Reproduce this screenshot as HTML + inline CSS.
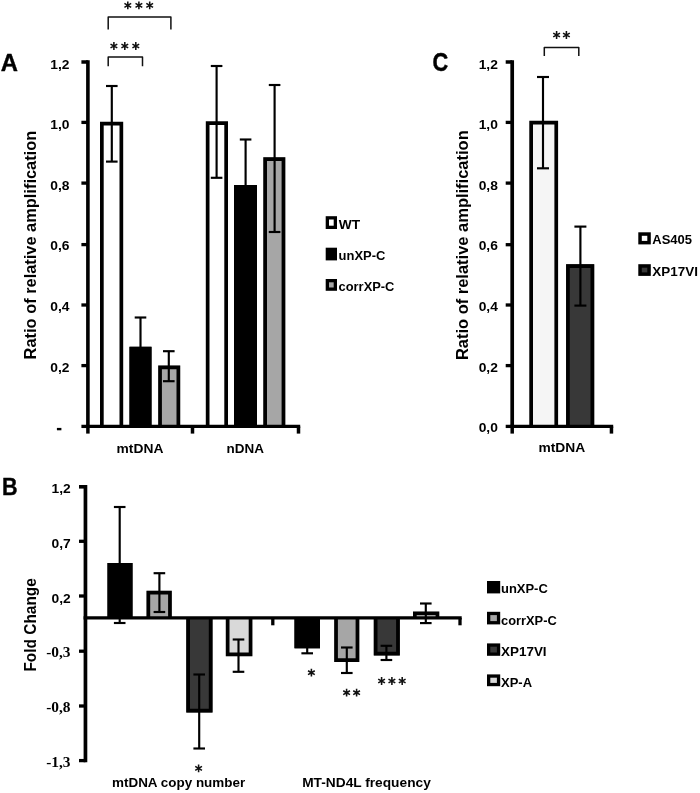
<!DOCTYPE html>
<html>
<head>
<meta charset="utf-8">
<title>Figure</title>
<style>
html,body{margin:0;padding:0;background:#fff;}
body{width:700px;height:793px;overflow:hidden;font-family:"Liberation Sans",sans-serif;}
svg{display:block;filter:blur(0.45px);}
</style>
</head>
<body>
<svg width="700" height="793" viewBox="0 0 700 793">
<rect x="0" y="0" width="700" height="793" fill="#ffffff"/>
<rect x="100.00" y="121.80" width="23.20" height="304.60" fill="#ffffff"/>
<path d="M101.85 426.40V123.65H121.35V426.40" fill="none" stroke="#000" stroke-width="3.7" stroke-linejoin="miter"/>
<rect x="129.50" y="346.80" width="22.00" height="79.60" fill="#000000"/>
<path d="M131.35 426.40V348.65H149.65V426.40" fill="none" stroke="#000" stroke-width="3.7" stroke-linejoin="miter"/>
<rect x="158.20" y="365.50" width="22.00" height="60.90" fill="#a6a6a6"/>
<path d="M160.05 426.40V367.35H178.35V426.40" fill="none" stroke="#000" stroke-width="3.7" stroke-linejoin="miter"/>
<rect x="205.80" y="121.30" width="22.20" height="305.10" fill="#ffffff"/>
<path d="M207.65 426.40V123.15H226.15V426.40" fill="none" stroke="#000" stroke-width="3.7" stroke-linejoin="miter"/>
<rect x="234.00" y="185.00" width="23.00" height="241.40" fill="#000000"/>
<path d="M235.85 426.40V186.85H255.15V426.40" fill="none" stroke="#000" stroke-width="3.7" stroke-linejoin="miter"/>
<rect x="263.30" y="157.20" width="22.00" height="269.20" fill="#a6a6a6"/>
<path d="M265.15 426.40V159.05H283.45V426.40" fill="none" stroke="#000" stroke-width="3.7" stroke-linejoin="miter"/>
<line x1="111.80" y1="86.00" x2="111.80" y2="161.60" stroke="#000" stroke-width="2.15" stroke-linecap="butt"/>
<line x1="106.00" y1="86.00" x2="117.60" y2="86.00" stroke="#000" stroke-width="2.15" stroke-linecap="butt"/>
<line x1="106.00" y1="161.60" x2="117.60" y2="161.60" stroke="#000" stroke-width="2.15" stroke-linecap="butt"/>
<line x1="140.50" y1="317.50" x2="140.50" y2="350.00" stroke="#000" stroke-width="2.15" stroke-linecap="butt"/>
<line x1="134.70" y1="317.50" x2="146.30" y2="317.50" stroke="#000" stroke-width="2.15" stroke-linecap="butt"/>
<line x1="168.80" y1="351.20" x2="168.80" y2="381.20" stroke="#000" stroke-width="2.15" stroke-linecap="butt"/>
<line x1="163.00" y1="351.20" x2="174.60" y2="351.20" stroke="#000" stroke-width="2.15" stroke-linecap="butt"/>
<line x1="163.00" y1="381.20" x2="174.60" y2="381.20" stroke="#000" stroke-width="2.15" stroke-linecap="butt"/>
<line x1="216.60" y1="66.00" x2="216.60" y2="177.80" stroke="#000" stroke-width="2.15" stroke-linecap="butt"/>
<line x1="210.80" y1="66.00" x2="222.40" y2="66.00" stroke="#000" stroke-width="2.15" stroke-linecap="butt"/>
<line x1="210.80" y1="177.80" x2="222.40" y2="177.80" stroke="#000" stroke-width="2.15" stroke-linecap="butt"/>
<line x1="245.60" y1="139.50" x2="245.60" y2="190.00" stroke="#000" stroke-width="2.15" stroke-linecap="butt"/>
<line x1="239.80" y1="139.50" x2="251.40" y2="139.50" stroke="#000" stroke-width="2.15" stroke-linecap="butt"/>
<line x1="274.60" y1="85.00" x2="274.60" y2="232.00" stroke="#000" stroke-width="2.15" stroke-linecap="butt"/>
<line x1="268.80" y1="85.00" x2="280.40" y2="85.00" stroke="#000" stroke-width="2.15" stroke-linecap="butt"/>
<line x1="268.80" y1="232.00" x2="280.40" y2="232.00" stroke="#000" stroke-width="2.15" stroke-linecap="butt"/>
<line x1="87.90" y1="60.30" x2="87.90" y2="428.10" stroke="#000" stroke-width="3.6" stroke-linecap="butt"/>
<line x1="86.10" y1="426.40" x2="300.20" y2="426.40" stroke="#000" stroke-width="3.4" stroke-linecap="butt"/>
<line x1="81.40" y1="62.00" x2="87.90" y2="62.00" stroke="#000" stroke-width="3.5" stroke-linecap="butt"/>
<line x1="81.40" y1="122.40" x2="87.90" y2="122.40" stroke="#000" stroke-width="3.3" stroke-linecap="butt"/>
<line x1="81.40" y1="183.10" x2="87.90" y2="183.10" stroke="#000" stroke-width="3.3" stroke-linecap="butt"/>
<line x1="81.40" y1="244.60" x2="87.90" y2="244.60" stroke="#000" stroke-width="3.3" stroke-linecap="butt"/>
<line x1="81.40" y1="305.00" x2="87.90" y2="305.00" stroke="#000" stroke-width="3.3" stroke-linecap="butt"/>
<line x1="81.40" y1="365.60" x2="87.90" y2="365.60" stroke="#000" stroke-width="3.3" stroke-linecap="butt"/>
<line x1="81.40" y1="426.40" x2="87.90" y2="426.40" stroke="#000" stroke-width="3.3" stroke-linecap="butt"/>
<line x1="87.90" y1="426.40" x2="87.90" y2="433.60" stroke="#000" stroke-width="3.5" stroke-linecap="butt"/>
<line x1="192.50" y1="426.40" x2="192.50" y2="433.60" stroke="#000" stroke-width="3.5" stroke-linecap="butt"/>
<line x1="298.50" y1="426.40" x2="298.50" y2="433.60" stroke="#000" stroke-width="3.5" stroke-linecap="butt"/>
<text x="50.30" y="68.60" font-family='"Liberation Sans", sans-serif' font-weight="bold" font-size="13.0" text-anchor="start" fill="#000" textLength="19.2" lengthAdjust="spacingAndGlyphs">1,2</text>
<text x="50.30" y="129.20" font-family='"Liberation Sans", sans-serif' font-weight="bold" font-size="13.0" text-anchor="start" fill="#000" textLength="19.2" lengthAdjust="spacingAndGlyphs">1,0</text>
<text x="50.30" y="189.80" font-family='"Liberation Sans", sans-serif' font-weight="bold" font-size="13.0" text-anchor="start" fill="#000" textLength="19.2" lengthAdjust="spacingAndGlyphs">0,8</text>
<text x="50.30" y="250.40" font-family='"Liberation Sans", sans-serif' font-weight="bold" font-size="13.0" text-anchor="start" fill="#000" textLength="19.2" lengthAdjust="spacingAndGlyphs">0,6</text>
<text x="50.30" y="311.20" font-family='"Liberation Sans", sans-serif' font-weight="bold" font-size="13.0" text-anchor="start" fill="#000" textLength="19.2" lengthAdjust="spacingAndGlyphs">0,4</text>
<text x="50.30" y="371.70" font-family='"Liberation Sans", sans-serif' font-weight="bold" font-size="13.0" text-anchor="start" fill="#000" textLength="19.2" lengthAdjust="spacingAndGlyphs">0,2</text>
<line x1="56.90" y1="429.10" x2="61.40" y2="429.10" stroke="#000" stroke-width="2.4" stroke-linecap="butt"/>
<text x="36.00" y="359.40" font-family='"Liberation Sans", sans-serif' font-weight="bold" font-size="16.4" text-anchor="start" fill="#000" textLength="228.6" lengthAdjust="spacingAndGlyphs" transform="rotate(-90 36.00 359.40)">Ratio of relative amplification</text>
<text x="116.60" y="452.50" font-family='"Liberation Sans", sans-serif' font-weight="bold" font-size="12.8" text-anchor="start" fill="#000" textLength="46.8" lengthAdjust="spacingAndGlyphs">mtDNA</text>
<text x="226.60" y="452.50" font-family='"Liberation Sans", sans-serif' font-weight="bold" font-size="12.8" text-anchor="start" fill="#000" textLength="37.4" lengthAdjust="spacingAndGlyphs">nDNA</text>
<text x="0.80" y="70.60" font-family='"Liberation Sans", sans-serif' font-weight="bold" font-size="23.6" text-anchor="start" fill="#000" stroke="#000" stroke-width="0.4" stroke-linejoin="round" textLength="17.2" lengthAdjust="spacingAndGlyphs">A</text>
<path d="M108.20 29.50V16.90H170.90V29.50" stroke="#111" stroke-width="1.5" fill="none" stroke-linejoin="round"/>
<path d="M127.80 1.50L127.80 9.30M124.42 3.45L131.18 7.35M131.18 3.45L124.42 7.35" stroke="#111" stroke-width="1.55" fill="none" stroke-linecap="butt"/>
<path d="M138.90 1.50L138.90 9.30M135.52 3.45L142.28 7.35M142.28 3.45L135.52 7.35" stroke="#111" stroke-width="1.55" fill="none" stroke-linecap="butt"/>
<path d="M149.70 1.50L149.70 9.30M146.32 3.45L153.08 7.35M153.08 3.45L146.32 7.35" stroke="#111" stroke-width="1.55" fill="none" stroke-linecap="butt"/>
<path d="M108.20 66.30V57.10H142.50V66.30" stroke="#111" stroke-width="1.5" fill="none" stroke-linejoin="round"/>
<path d="M113.90 42.10L113.90 49.90M110.52 44.05L117.28 47.95M117.28 44.05L110.52 47.95" stroke="#111" stroke-width="1.55" fill="none" stroke-linecap="butt"/>
<path d="M124.80 42.10L124.80 49.90M121.42 44.05L128.18 47.95M128.18 44.05L121.42 47.95" stroke="#111" stroke-width="1.55" fill="none" stroke-linecap="butt"/>
<path d="M135.80 42.10L135.80 49.90M132.42 44.05L139.18 47.95M139.18 44.05L132.42 47.95" stroke="#111" stroke-width="1.55" fill="none" stroke-linecap="butt"/>
<rect x="327.35" y="217.85" width="8.00" height="9.50" fill="#ffffff" stroke="#000" stroke-width="3.3"/>
<text x="338.80" y="229.00" font-family='"Liberation Sans", sans-serif' font-weight="bold" font-size="13" text-anchor="start" fill="#000" textLength="21.4" lengthAdjust="spacingAndGlyphs">WT</text>
<rect x="327.35" y="249.35" width="8.00" height="9.40" fill="#000000" stroke="#000" stroke-width="3.3"/>
<text x="338.60" y="260.40" font-family='"Liberation Sans", sans-serif' font-weight="bold" font-size="13" text-anchor="start" fill="#000" textLength="46.8" lengthAdjust="spacingAndGlyphs">unXP-C</text>
<rect x="327.35" y="280.65" width="8.00" height="8.50" fill="#a6a6a6" stroke="#000" stroke-width="3.3"/>
<text x="338.60" y="291.40" font-family='"Liberation Sans", sans-serif' font-weight="bold" font-size="13" text-anchor="start" fill="#000" textLength="55.8" lengthAdjust="spacingAndGlyphs">corrXP-C</text>
<rect x="529.30" y="120.80" width="28.80" height="305.60" fill="#f5f5f5"/>
<path d="M531.15 426.40V122.65H556.25V426.40" fill="none" stroke="#000" stroke-width="3.7" stroke-linejoin="miter"/>
<rect x="566.10" y="264.20" width="28.10" height="162.20" fill="#383838"/>
<path d="M567.95 426.40V266.05H592.35V426.40" fill="none" stroke="#000" stroke-width="3.7" stroke-linejoin="miter"/>
<line x1="543.00" y1="77.00" x2="543.00" y2="168.30" stroke="#000" stroke-width="2.15" stroke-linecap="butt"/>
<line x1="537.00" y1="77.00" x2="549.00" y2="77.00" stroke="#000" stroke-width="2.15" stroke-linecap="butt"/>
<line x1="537.00" y1="168.30" x2="549.00" y2="168.30" stroke="#000" stroke-width="2.15" stroke-linecap="butt"/>
<line x1="580.40" y1="226.60" x2="580.40" y2="305.60" stroke="#000" stroke-width="2.15" stroke-linecap="butt"/>
<line x1="574.40" y1="226.60" x2="586.40" y2="226.60" stroke="#000" stroke-width="2.15" stroke-linecap="butt"/>
<line x1="574.40" y1="305.60" x2="586.40" y2="305.60" stroke="#000" stroke-width="2.15" stroke-linecap="butt"/>
<line x1="512.20" y1="60.30" x2="512.20" y2="428.10" stroke="#000" stroke-width="3.7" stroke-linecap="butt"/>
<line x1="510.30" y1="426.40" x2="613.20" y2="426.40" stroke="#000" stroke-width="3.4" stroke-linecap="butt"/>
<line x1="505.70" y1="62.00" x2="512.20" y2="62.00" stroke="#000" stroke-width="3.5" stroke-linecap="butt"/>
<line x1="505.70" y1="122.40" x2="512.20" y2="122.40" stroke="#000" stroke-width="3.3" stroke-linecap="butt"/>
<line x1="505.70" y1="183.10" x2="512.20" y2="183.10" stroke="#000" stroke-width="3.3" stroke-linecap="butt"/>
<line x1="505.70" y1="244.70" x2="512.20" y2="244.70" stroke="#000" stroke-width="3.3" stroke-linecap="butt"/>
<line x1="505.70" y1="305.00" x2="512.20" y2="305.00" stroke="#000" stroke-width="3.3" stroke-linecap="butt"/>
<line x1="505.70" y1="365.60" x2="512.20" y2="365.60" stroke="#000" stroke-width="3.3" stroke-linecap="butt"/>
<line x1="505.70" y1="426.40" x2="512.20" y2="426.40" stroke="#000" stroke-width="3.3" stroke-linecap="butt"/>
<line x1="512.20" y1="426.40" x2="512.20" y2="433.60" stroke="#000" stroke-width="3.5" stroke-linecap="butt"/>
<line x1="611.45" y1="426.40" x2="611.45" y2="433.60" stroke="#000" stroke-width="3.5" stroke-linecap="butt"/>
<text x="478.70" y="68.70" font-family='"Liberation Sans", sans-serif' font-weight="bold" font-size="13.2" text-anchor="start" fill="#000" textLength="19.2" lengthAdjust="spacingAndGlyphs">1,2</text>
<text x="478.70" y="129.10" font-family='"Liberation Sans", sans-serif' font-weight="bold" font-size="13.2" text-anchor="start" fill="#000" textLength="19.2" lengthAdjust="spacingAndGlyphs">1,0</text>
<text x="478.70" y="189.70" font-family='"Liberation Sans", sans-serif' font-weight="bold" font-size="13.2" text-anchor="start" fill="#000" textLength="19.2" lengthAdjust="spacingAndGlyphs">0,8</text>
<text x="478.70" y="250.30" font-family='"Liberation Sans", sans-serif' font-weight="bold" font-size="13.2" text-anchor="start" fill="#000" textLength="19.2" lengthAdjust="spacingAndGlyphs">0,6</text>
<text x="478.70" y="311.10" font-family='"Liberation Sans", sans-serif' font-weight="bold" font-size="13.2" text-anchor="start" fill="#000" textLength="19.2" lengthAdjust="spacingAndGlyphs">0,4</text>
<text x="478.70" y="371.60" font-family='"Liberation Sans", sans-serif' font-weight="bold" font-size="13.2" text-anchor="start" fill="#000" textLength="19.2" lengthAdjust="spacingAndGlyphs">0,2</text>
<text x="478.70" y="432.10" font-family='"Liberation Sans", sans-serif' font-weight="bold" font-size="13.2" text-anchor="start" fill="#000" textLength="19.2" lengthAdjust="spacingAndGlyphs">0,0</text>
<text x="468.30" y="360.10" font-family='"Liberation Sans", sans-serif' font-weight="bold" font-size="16.4" text-anchor="start" fill="#000" textLength="229.8" lengthAdjust="spacingAndGlyphs" transform="rotate(-90 468.30 360.10)">Ratio of relative amplification</text>
<text x="538.40" y="452.40" font-family='"Liberation Sans", sans-serif' font-weight="bold" font-size="12.8" text-anchor="start" fill="#000" textLength="46.8" lengthAdjust="spacingAndGlyphs">mtDNA</text>
<text x="432.50" y="70.90" font-family='"Liberation Sans", sans-serif' font-weight="bold" font-size="25" text-anchor="start" fill="#000" stroke="#000" stroke-width="0.45" stroke-linejoin="round" textLength="15.7" lengthAdjust="spacingAndGlyphs">C</text>
<path d="M544.30 56.00V47.50H578.80V56.00" stroke="#111" stroke-width="1.5" fill="none" stroke-linejoin="round"/>
<path d="M556.60 31.10L556.60 38.90M553.22 33.05L559.98 36.95M559.98 33.05L553.22 36.95" stroke="#111" stroke-width="1.55" fill="none" stroke-linecap="butt"/>
<path d="M566.40 31.10L566.40 38.90M563.02 33.05L569.78 36.95M569.78 33.05L563.02 36.95" stroke="#111" stroke-width="1.55" fill="none" stroke-linecap="butt"/>
<rect x="640.05" y="234.05" width="9.00" height="8.60" fill="#ffffff" stroke="#000" stroke-width="3.5"/>
<text x="652.30" y="244.20" font-family='"Liberation Sans", sans-serif' font-weight="bold" font-size="13.1" text-anchor="start" fill="#000" textLength="39.8" lengthAdjust="spacingAndGlyphs">AS405</text>
<rect x="640.05" y="265.95" width="9.00" height="8.20" fill="#383838" stroke="#000" stroke-width="3.5"/>
<text x="652.30" y="275.60" font-family='"Liberation Sans", sans-serif' font-weight="bold" font-size="13.1" text-anchor="start" fill="#000" textLength="45.6" lengthAdjust="spacingAndGlyphs">XP17VI</text>
<rect x="107.50" y="563.00" width="25.00" height="54.95" fill="#000000"/>
<path d="M109.35 617.95V564.85H130.65V617.95" fill="none" stroke="#000" stroke-width="3.7" stroke-linejoin="miter"/>
<rect x="146.50" y="590.80" width="25.30" height="27.15" fill="#a6a6a6"/>
<path d="M148.35 617.95V592.65H169.95V617.95" fill="none" stroke="#000" stroke-width="3.7" stroke-linejoin="miter"/>
<rect x="186.30" y="617.95" width="26.20" height="94.55" fill="#383838"/>
<path d="M188.15 617.95V710.65H210.65V617.95" fill="none" stroke="#000" stroke-width="3.7" stroke-linejoin="miter"/>
<rect x="225.80" y="617.95" width="26.60" height="38.35" fill="#d9d9d9"/>
<path d="M227.65 617.95V654.45H250.55V617.95" fill="none" stroke="#000" stroke-width="3.7" stroke-linejoin="miter"/>
<rect x="294.50" y="617.95" width="25.50" height="30.35" fill="#000000"/>
<path d="M296.35 617.95V646.45H318.15V617.95" fill="none" stroke="#000" stroke-width="3.7" stroke-linejoin="miter"/>
<rect x="334.20" y="617.95" width="25.10" height="44.05" fill="#a6a6a6"/>
<path d="M336.05 617.95V660.15H357.45V617.95" fill="none" stroke="#000" stroke-width="3.7" stroke-linejoin="miter"/>
<rect x="373.80" y="617.95" width="26.00" height="37.45" fill="#383838"/>
<path d="M375.65 617.95V653.55H397.95V617.95" fill="none" stroke="#000" stroke-width="3.7" stroke-linejoin="miter"/>
<rect x="413.00" y="611.50" width="26.30" height="6.45" fill="#d9d9d9"/>
<path d="M414.85 617.95V613.35H437.45V617.95" fill="none" stroke="#000" stroke-width="3.7" stroke-linejoin="miter"/>
<line x1="119.70" y1="507.00" x2="119.70" y2="623.00" stroke="#000" stroke-width="2.15" stroke-linecap="butt"/>
<line x1="113.90" y1="507.00" x2="125.50" y2="507.00" stroke="#000" stroke-width="2.15" stroke-linecap="butt"/>
<line x1="113.90" y1="623.00" x2="125.50" y2="623.00" stroke="#000" stroke-width="2.15" stroke-linecap="butt"/>
<line x1="159.40" y1="573.20" x2="159.40" y2="612.00" stroke="#000" stroke-width="2.15" stroke-linecap="butt"/>
<line x1="153.60" y1="573.20" x2="165.20" y2="573.20" stroke="#000" stroke-width="2.15" stroke-linecap="butt"/>
<line x1="153.60" y1="612.00" x2="165.20" y2="612.00" stroke="#000" stroke-width="2.15" stroke-linecap="butt"/>
<line x1="199.20" y1="674.50" x2="199.20" y2="748.50" stroke="#000" stroke-width="2.15" stroke-linecap="butt"/>
<line x1="193.40" y1="674.50" x2="205.00" y2="674.50" stroke="#000" stroke-width="2.15" stroke-linecap="butt"/>
<line x1="193.40" y1="748.50" x2="205.00" y2="748.50" stroke="#000" stroke-width="2.15" stroke-linecap="butt"/>
<line x1="238.50" y1="639.50" x2="238.50" y2="671.80" stroke="#000" stroke-width="2.15" stroke-linecap="butt"/>
<line x1="232.70" y1="639.50" x2="244.30" y2="639.50" stroke="#000" stroke-width="2.15" stroke-linecap="butt"/>
<line x1="232.70" y1="671.80" x2="244.30" y2="671.80" stroke="#000" stroke-width="2.15" stroke-linecap="butt"/>
<line x1="307.20" y1="640.00" x2="307.20" y2="653.30" stroke="#000" stroke-width="2.15" stroke-linecap="butt"/>
<line x1="301.40" y1="653.30" x2="313.00" y2="653.30" stroke="#000" stroke-width="2.15" stroke-linecap="butt"/>
<line x1="346.80" y1="647.50" x2="346.80" y2="673.00" stroke="#000" stroke-width="2.15" stroke-linecap="butt"/>
<line x1="341.00" y1="647.50" x2="352.60" y2="647.50" stroke="#000" stroke-width="2.15" stroke-linecap="butt"/>
<line x1="341.00" y1="673.00" x2="352.60" y2="673.00" stroke="#000" stroke-width="2.15" stroke-linecap="butt"/>
<line x1="386.40" y1="645.80" x2="386.40" y2="660.00" stroke="#000" stroke-width="2.15" stroke-linecap="butt"/>
<line x1="380.60" y1="645.80" x2="392.20" y2="645.80" stroke="#000" stroke-width="2.15" stroke-linecap="butt"/>
<line x1="380.60" y1="660.00" x2="392.20" y2="660.00" stroke="#000" stroke-width="2.15" stroke-linecap="butt"/>
<line x1="425.80" y1="603.50" x2="425.80" y2="623.10" stroke="#000" stroke-width="2.15" stroke-linecap="butt"/>
<line x1="420.00" y1="603.50" x2="431.60" y2="603.50" stroke="#000" stroke-width="2.15" stroke-linecap="butt"/>
<line x1="420.00" y1="623.10" x2="431.60" y2="623.10" stroke="#000" stroke-width="2.15" stroke-linecap="butt"/>
<line x1="85.45" y1="485.00" x2="85.45" y2="762.20" stroke="#000" stroke-width="3.7" stroke-linecap="butt"/>
<line x1="83.60" y1="617.95" x2="461.70" y2="617.95" stroke="#000" stroke-width="3.3" stroke-linecap="butt"/>
<line x1="79.00" y1="486.80" x2="85.45" y2="486.80" stroke="#000" stroke-width="3.6" stroke-linecap="butt"/>
<line x1="79.00" y1="541.30" x2="85.45" y2="541.30" stroke="#000" stroke-width="3.3" stroke-linecap="butt"/>
<line x1="79.00" y1="596.00" x2="85.45" y2="596.00" stroke="#000" stroke-width="3.3" stroke-linecap="butt"/>
<line x1="79.00" y1="651.20" x2="85.45" y2="651.20" stroke="#000" stroke-width="3.3" stroke-linecap="butt"/>
<line x1="79.00" y1="706.00" x2="85.45" y2="706.00" stroke="#000" stroke-width="3.3" stroke-linecap="butt"/>
<line x1="79.00" y1="760.60" x2="85.45" y2="760.60" stroke="#000" stroke-width="3.3" stroke-linecap="butt"/>
<line x1="272.80" y1="617.95" x2="272.80" y2="625.30" stroke="#000" stroke-width="3.3" stroke-linecap="butt"/>
<line x1="460.00" y1="617.95" x2="460.00" y2="625.30" stroke="#000" stroke-width="3.3" stroke-linecap="butt"/>
<text x="51.60" y="493.20" font-family='"Liberation Sans", sans-serif' font-weight="bold" font-size="13.0" text-anchor="start" fill="#000" textLength="19.2" lengthAdjust="spacingAndGlyphs">1,2</text>
<text x="51.60" y="548.20" font-family='"Liberation Sans", sans-serif' font-weight="bold" font-size="13.0" text-anchor="start" fill="#000" textLength="19.2" lengthAdjust="spacingAndGlyphs">0,7</text>
<text x="51.60" y="603.20" font-family='"Liberation Sans", sans-serif' font-weight="bold" font-size="13.0" text-anchor="start" fill="#000" textLength="19.2" lengthAdjust="spacingAndGlyphs">0,2</text>
<text x="46.20" y="656.70" font-family='"Liberation Serif", serif' font-weight="bold" font-size="15.4" text-anchor="start" fill="#000" textLength="24.4" lengthAdjust="spacingAndGlyphs">-0,3</text>
<text x="46.20" y="711.60" font-family='"Liberation Serif", serif' font-weight="bold" font-size="15.4" text-anchor="start" fill="#000" textLength="24.4" lengthAdjust="spacingAndGlyphs">-0,8</text>
<text x="46.20" y="766.60" font-family='"Liberation Serif", serif' font-weight="bold" font-size="15.4" text-anchor="start" fill="#000" textLength="24.4" lengthAdjust="spacingAndGlyphs">-1,3</text>
<text x="36.00" y="671.60" font-family='"Liberation Sans", sans-serif' font-weight="bold" font-size="16.4" text-anchor="start" fill="#000" textLength="93.4" lengthAdjust="spacingAndGlyphs" transform="rotate(-90 36.00 671.60)">Fold Change</text>
<text x="112.00" y="786.80" font-family='"Liberation Sans", sans-serif' font-weight="bold" font-size="12.5" text-anchor="start" fill="#000" textLength="133.2" lengthAdjust="spacingAndGlyphs">mtDNA copy number</text>
<text x="302.20" y="786.60" font-family='"Liberation Sans", sans-serif' font-weight="bold" font-size="12.5" text-anchor="start" fill="#000" textLength="128.6" lengthAdjust="spacingAndGlyphs">MT-ND4L frequency</text>
<text x="2.00" y="495.00" font-family='"Liberation Sans", sans-serif' font-weight="bold" font-size="24.5" text-anchor="start" fill="#000" stroke="#000" stroke-width="0.4" stroke-linejoin="round" textLength="15.6" lengthAdjust="spacingAndGlyphs">B</text>
<path d="M198.60 764.50L198.60 772.30M195.22 766.45L201.98 770.35M201.98 766.45L195.22 770.35" stroke="#111" stroke-width="1.55" fill="none" stroke-linecap="butt"/>
<path d="M311.40 668.80L311.40 676.60M308.02 670.75L314.78 674.65M314.78 670.75L308.02 674.65" stroke="#111" stroke-width="1.55" fill="none" stroke-linecap="butt"/>
<path d="M346.60 688.80L346.60 696.60M343.22 690.75L349.98 694.65M349.98 690.75L343.22 694.65" stroke="#111" stroke-width="1.55" fill="none" stroke-linecap="butt"/>
<path d="M356.60 688.80L356.60 696.60M353.22 690.75L359.98 694.65M359.98 690.75L353.22 694.65" stroke="#111" stroke-width="1.55" fill="none" stroke-linecap="butt"/>
<path d="M381.60 677.10L381.60 684.90M378.22 679.05L384.98 682.95M384.98 679.05L378.22 682.95" stroke="#111" stroke-width="1.55" fill="none" stroke-linecap="butt"/>
<path d="M391.90 677.10L391.90 684.90M388.52 679.05L395.28 682.95M395.28 679.05L388.52 682.95" stroke="#111" stroke-width="1.55" fill="none" stroke-linecap="butt"/>
<path d="M402.20 677.10L402.20 684.90M398.82 679.05L405.58 682.95M405.58 679.05L398.82 682.95" stroke="#111" stroke-width="1.55" fill="none" stroke-linecap="butt"/>
<rect x="488.65" y="582.65" width="9.90" height="9.10" fill="#000000" stroke="#000" stroke-width="3.3"/>
<text x="501.00" y="593.30" font-family='"Liberation Sans", sans-serif' font-weight="bold" font-size="13" text-anchor="start" fill="#000" textLength="46.8" lengthAdjust="spacingAndGlyphs">unXP-C</text>
<rect x="488.65" y="613.45" width="9.90" height="9.30" fill="#a6a6a6" stroke="#000" stroke-width="3.3"/>
<text x="501.00" y="624.60" font-family='"Liberation Sans", sans-serif' font-weight="bold" font-size="13" text-anchor="start" fill="#000" textLength="55.8" lengthAdjust="spacingAndGlyphs">corrXP-C</text>
<rect x="488.65" y="645.05" width="9.90" height="9.10" fill="#383838" stroke="#000" stroke-width="3.3"/>
<text x="501.00" y="655.80" font-family='"Liberation Sans", sans-serif' font-weight="bold" font-size="13" text-anchor="start" fill="#000" textLength="45.6" lengthAdjust="spacingAndGlyphs">XP17VI</text>
<rect x="488.65" y="676.05" width="9.90" height="8.50" fill="#d9d9d9" stroke="#000" stroke-width="3.3"/>
<text x="501.00" y="686.90" font-family='"Liberation Sans", sans-serif' font-weight="bold" font-size="13" text-anchor="start" fill="#000" textLength="31.0" lengthAdjust="spacingAndGlyphs">XP-A</text>
</svg>
</body>
</html>
